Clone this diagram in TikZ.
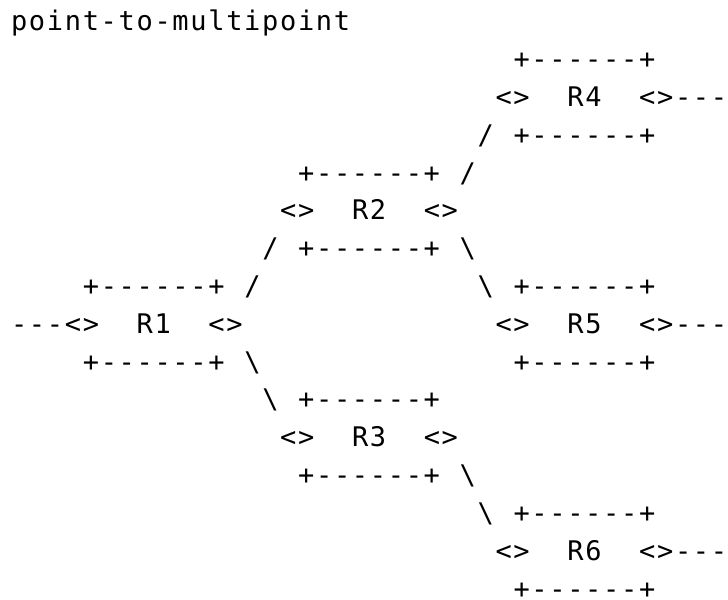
\documentclass[tikz,border=0pt]{standalone}
\usepackage{fontspec}
\setmonofont[LetterSpace=6.22]{DejaVu Sans Mono}
\begin{document}
\begin{tikzpicture}[x=17.94pt,y=37.8pt,
	txt/.style={anchor=base west,inner sep=0pt,outer sep=0pt,xshift=0.84pt,font=\ttfamily\fontsize{27}{33}\selectfont}]
	\useasboundingbox (-0.569,0.817) rectangle (40,-15.029);
	\node[txt] (title) at (0,0) {point-to-multipoint};
	\node[txt] (r4top) at (28,-1) {+------+};
	\node[txt] (r4w) at (27,-2) {<>};
	\node[txt] (r4) at (31,-2) {R4};
	\node[txt] (r4e) at (35,-2) {<>};
	\node[txt] (r4out) at (37,-2) {---};
	\node[txt] (l24b) at (26,-3) {/};
	\node[txt] (r4bot) at (28,-3) {+------+};
	\node[txt] (r2top) at (16,-4) {+------+};
	\node[txt] (l24a) at (25,-4) {/};
	\node[txt] (r2w) at (15,-5) {<>};
	\node[txt] (r2) at (19,-5) {R2};
	\node[txt] (r2e) at (23,-5) {<>};
	\node[txt] (l12b) at (14,-6) {/};
	\node[txt] (r2bot) at (16,-6) {+------+};
	\node[txt] (l25a) at (25,-6) {\textbackslash};
	\node[txt] (r1top) at (4,-7) {+------+};
	\node[txt] (l12a) at (13,-7) {/};
	\node[txt] (l25b) at (26,-7) {\textbackslash};
	\node[txt] (r5top) at (28,-7) {+------+};
	\node[txt] (r1in) at (0,-8) {---};
	\node[txt] (r1w) at (3,-8) {<>};
	\node[txt] (r1) at (7,-8) {R1};
	\node[txt] (r1e) at (11,-8) {<>};
	\node[txt] (r5w) at (27,-8) {<>};
	\node[txt] (r5) at (31,-8) {R5};
	\node[txt] (r5e) at (35,-8) {<>};
	\node[txt] (r5out) at (37,-8) {---};
	\node[txt] (r1bot) at (4,-9) {+------+};
	\node[txt] (l13a) at (13,-9) {\textbackslash};
	\node[txt] (r5bot) at (28,-9) {+------+};
	\node[txt] (l13b) at (14,-10) {\textbackslash};
	\node[txt] (r3top) at (16,-10) {+------+};
	\node[txt] (r3w) at (15,-11) {<>};
	\node[txt] (r3) at (19,-11) {R3};
	\node[txt] (r3e) at (23,-11) {<>};
	\node[txt] (r3bot) at (16,-12) {+------+};
	\node[txt] (l36a) at (25,-12) {\textbackslash};
	\node[txt] (l36b) at (26,-13) {\textbackslash};
	\node[txt] (r6top) at (28,-13) {+------+};
	\node[txt] (r6w) at (27,-14) {<>};
	\node[txt] (r6) at (31,-14) {R6};
	\node[txt] (r6e) at (35,-14) {<>};
	\node[txt] (r6out) at (37,-14) {---};
	\node[txt] (r6bot) at (28,-15) {+------+};
\end{tikzpicture}
\end{document}
